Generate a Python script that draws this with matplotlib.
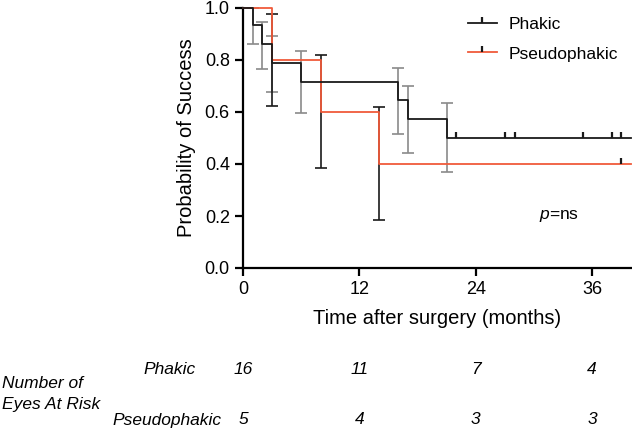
import numpy as np
import matplotlib
matplotlib.use("Agg")
import matplotlib.pyplot as plt
from matplotlib.lines import Line2D

plt.rcParams["font.family"] = ["Liberation Sans", "DejaVu Sans"]
plt.rcParams["mathtext.fontset"] = "custom"
plt.rcParams["mathtext.it"] = "Liberation Sans:italic"
plt.rcParams["mathtext.rm"] = "Liberation Sans"

# --- Kaplan-Meier data ---
phakic_t = [0, 1, 2, 3, 6, 16, 17, 21, 40]
phakic_s = [1.0, 0.935, 0.86, 0.788, 0.715, 0.646, 0.573, 0.50, 0.50]
phakic_censor_t = [22, 27, 28, 35, 38, 39]
phakic_censor_s = [0.50, 0.50, 0.50, 0.50, 0.50, 0.50]

pseudo_t = [0, 3, 8, 14, 40]
pseudo_s = [1.0, 0.8, 0.6, 0.4, 0.4]
pseudo_censor_t = [39]
pseudo_censor_s = [0.40]

# error bars (time, centre, lower, upper)
phakic_err_t = [1, 2, 3, 6, 16, 17, 21]
phakic_err_c = [0.935, 0.86, 0.788, 0.715, 0.646, 0.573, 0.50]
phakic_err_lo = [0.862, 0.764, 0.676, 0.595, 0.515, 0.441, 0.370]
phakic_err_hi = [1.0, 0.948, 0.894, 0.835, 0.770, 0.701, 0.633]

pseudo_err_t = [3, 8, 14]
pseudo_err_c = [0.8, 0.6, 0.4]
pseudo_err_lo = [0.623, 0.384, 0.185]
pseudo_err_hi = [0.977, 0.819, 0.620]

# number at risk
risk_times = [0, 12, 24, 36]
risk_phakic = [16, 11, 7, 4]
risk_pseudo = [5, 4, 3, 3]

black = "#1a1a1a"
red = "#f05a3a"
gray = "#8a8a8a"

fig = plt.figure(figsize=(6.32, 4.29), dpi=100)
ax = fig.add_axes([243 / 632, 1 - 268 / 429, 388 / 632, 260 / 429])

# error bars
ax.errorbar(phakic_err_t, phakic_err_c,
            yerr=[np.subtract(phakic_err_c, phakic_err_lo),
                  np.subtract(phakic_err_hi, phakic_err_c)],
            fmt="none", ecolor=gray, elinewidth=1.2, capsize=4,
            capthick=1.2, clip_on=False, zorder=2)
ax.errorbar(pseudo_err_t, pseudo_err_c,
            yerr=[np.subtract(pseudo_err_c, pseudo_err_lo),
                  np.subtract(pseudo_err_hi, pseudo_err_c)],
            fmt="none", ecolor=black, elinewidth=1.2, capsize=4,
            capthick=1.2, clip_on=False, zorder=2)

# survival curves
ax.step(pseudo_t, pseudo_s, where="post", color=red, lw=1.3,
        clip_on=False, zorder=3)
ax.step(phakic_t, phakic_s, where="post", color=black, lw=1.3,
        clip_on=False, zorder=4)

# censor ticks
ax.plot(phakic_censor_t, phakic_censor_s, ls="none", marker=2,
        ms=4, mew=1.6, color=black, zorder=5)
ax.plot(pseudo_censor_t, pseudo_censor_s, ls="none", marker=2,
        ms=4, mew=1.6, color=black, zorder=5)

ax.set_xlim(0, 40)
ax.set_ylim(0, 1.0)
ax.set_xticks([0, 12, 24, 36])
ax.set_yticks([0.0, 0.2, 0.4, 0.6, 0.8, 1.0])
ax.set_yticklabels(["0.0", "0.2", "0.4", "0.6", "0.8", "1.0"])
for side in ["top", "right"]:
    ax.spines[side].set_visible(False)
for side in ["left", "bottom"]:
    ax.spines[side].set_linewidth(1.6)
ax.tick_params(width=1.6, length=6, labelsize=13, color="black")
ax.set_ylabel("Probability of Success", fontsize=14.5, labelpad=6)
ax.set_xlabel("Time after surgery (months)", fontsize=14.5, labelpad=8)

ax.text(30.5, 0.2, "$\\mathit{p}$=ns", fontsize=12.5, va="center")

# legend
handles = [
    Line2D([], [], color=black, lw=1.3, marker=2, ms=4, mew=1.6,
           mec=black),
    Line2D([], [], color=red, lw=1.3, marker=2, ms=4, mew=1.6,
           mec=black),
]
leg = fig.legend(handles, ["Phakic", "Pseudophakic"], loc="upper left",
                 bbox_to_anchor=(468 / 632, 1 - 17 / 429), frameon=False,
                 fontsize=12.5, handlelength=1.65, handletextpad=0.7,
                 labelspacing=0.82, borderpad=0, borderaxespad=0,
                 numpoints=1)

# number at risk table
fig.text(2 / 632, 1 - 383 / 429, "Number of", fontsize=12.5,
         style="italic", va="center", ha="left")
fig.text(2 / 632, 1 - 405 / 429, "Eyes At Risk", fontsize=12.5,
         style="italic", va="center", ha="left")
fig.text(196 / 632, 1 - 370 / 429, "Phakic", fontsize=12.5,
         style="italic", va="center", ha="right")
fig.text(222 / 632, 1 - 420 / 429, "Pseudophakic", fontsize=12.5,
         style="italic", va="center", ha="right")
y_row1 = 1 - 370 / 429
y_row2 = 1 - 419 / 429
for t, n1, n2 in zip(risk_times, risk_phakic, risk_pseudo):
    xf = fig.transFigure.inverted().transform(ax.transData.transform((t, 0)))[0]
    fig.text(xf, y_row1, str(n1), fontsize=12.5, style="italic",
             va="center", ha="center")
    fig.text(xf, y_row2, str(n2), fontsize=12.5, style="italic",
             va="center", ha="center")

fig.savefig("out.png", dpi=100)
